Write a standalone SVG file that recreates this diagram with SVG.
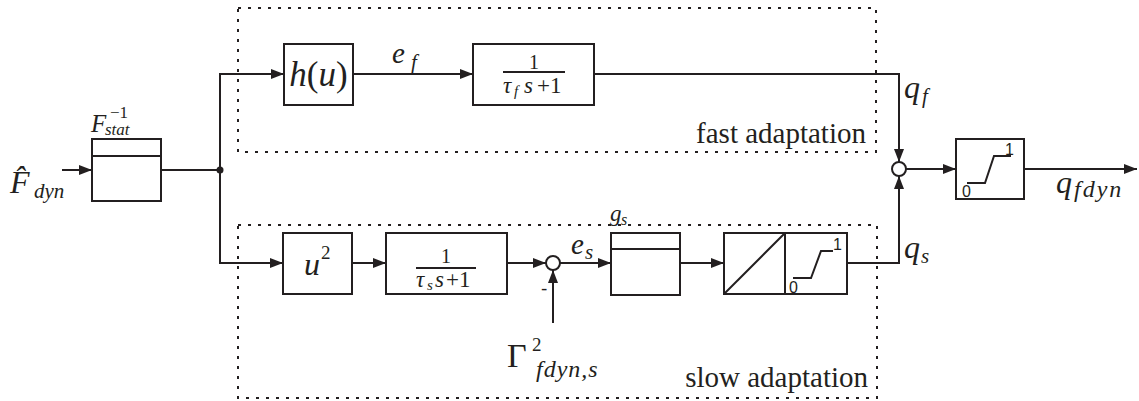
<svg xmlns="http://www.w3.org/2000/svg" width="1139" height="401" viewBox="0 0 1139 401">
<defs>
<style>
.blk{fill:#fff;stroke:#231f20;stroke-width:2}
.ln{fill:none;stroke:#231f20;stroke-width:2}
.dot{fill:none;stroke:#231f20;stroke-width:2;stroke-dasharray:3 7}
.m{font-family:"Liberation Serif","Times New Roman",serif;font-style:italic;fill:#231f20}
.r{font-family:"Liberation Serif","Times New Roman",serif;fill:#231f20}
.s{font-family:"Liberation Sans",Arial,sans-serif;fill:#231f20}
</style>
<marker id="ah" markerWidth="14" markerHeight="12" refX="13" refY="6" orient="auto" markerUnits="userSpaceOnUse">
<path d="M0,1 L13,6 L0,11 Z" fill="#231f20"/>
</marker>
</defs>
<rect width="1139" height="401" fill="#fff"/>

<g id="fast-region">
<rect x="238" y="8" width="638" height="144" class="dot"/>
<text x="866" y="143" class="r" font-size="29" text-anchor="end">fast adaptation</text>
</g>
<g id="slow-region">
<rect x="238" y="225" width="639" height="173" class="dot"/>
<text x="868" y="387" class="r" font-size="29" text-anchor="end">slow adaptation</text>
</g>

<g id="connectors">
<line x1="62" y1="170" x2="92" y2="170" class="ln" marker-end="url(#ah)"/>
<line x1="161" y1="170" x2="220" y2="170" class="ln"/>
<circle cx="220" cy="170" r="3.5" fill="#231f20"/>
<line x1="220" y1="74" x2="220" y2="263" class="ln"/>
<line x1="219" y1="74" x2="284" y2="74" class="ln" marker-end="url(#ah)"/>
<line x1="219" y1="263" x2="283" y2="263" class="ln" marker-end="url(#ah)"/>
<line x1="353" y1="74" x2="473" y2="74" class="ln" marker-end="url(#ah)"/>
<polyline points="594,74 899,74 899,162" class="ln" marker-end="url(#ah)"/>
<line x1="906" y1="169" x2="956" y2="169" class="ln" marker-end="url(#ah)"/>
<line x1="1024" y1="169" x2="1137" y2="169" class="ln" marker-end="url(#ah)"/>
<line x1="352" y1="263" x2="386" y2="263" class="ln" marker-end="url(#ah)"/>
<line x1="507" y1="263" x2="546" y2="263" class="ln" marker-end="url(#ah)"/>
<line x1="560" y1="263" x2="611" y2="263" class="ln" marker-end="url(#ah)"/>
<line x1="680" y1="263" x2="724" y2="263" class="ln" marker-end="url(#ah)"/>
<polyline points="847,263 899,263 899,176" class="ln" marker-end="url(#ah)"/>
<line x1="553" y1="323" x2="553" y2="270" class="ln" marker-end="url(#ah)"/>
</g>

<g id="input-label">
<text x="10" y="193" class="m" font-size="32">F&#x302;</text>
<text x="34" y="198" class="m" font-size="21">dyn</text>
</g>

<g id="fstat-inv">
<rect x="92" y="139" width="69" height="62" class="blk"/>
<line x1="92" y1="156" x2="161" y2="156" class="ln"/>
<text x="91" y="132" class="m" font-size="25">F</text>
<text x="110" y="118" class="r" font-size="17">−1</text>
<text x="105" y="135" class="m" font-size="17">stat</text>
</g>

<g id="h-u">
<rect x="284" y="44" width="69" height="61" class="blk"/>
<text x="318.5" y="86" class="m" font-size="35" text-anchor="middle">h<tspan font-style="normal">(</tspan>u<tspan font-style="normal">)</tspan></text>
</g>

<g id="ef-label">
<text x="392" y="63" class="m" font-size="29">e</text>
<text x="411" y="69" class="m" font-size="21">f</text>
</g>

<g id="lp-fast">
<rect x="473" y="44" width="121" height="61" class="blk"/>
<text x="534" y="69" class="r" font-size="20" text-anchor="middle">1</text>
<line x1="503" y1="72" x2="565" y2="72" class="ln"/>
<text x="503" y="93" class="m" font-size="23">τ</text>
<text x="514" y="96" class="m" font-size="15">f</text>
<text x="524" y="93" class="m" font-size="23">s</text>
<text x="537" y="93" class="r" font-size="23">+1</text>
</g>

<g id="qf-label">
<text x="904" y="98" class="m" font-size="32">q</text>
<text x="922" y="103" class="m" font-size="21">f</text>
</g>

<g id="sum-out">
<circle cx="899" cy="169" r="7" class="blk"/>
</g>

<g id="sat-out">
<rect x="956" y="139" width="68" height="60" class="blk"/>
<polyline points="967,183 985,183 994,156 1011,156" class="ln"/>
<text x="1005" y="155" class="s" font-size="16">1</text>
<text x="962" y="197" class="s" font-size="16">0</text>
</g>

<g id="output-label">
<text x="1056" y="193" class="m" font-size="32">q</text>
<text x="1074" y="197" class="m" font-size="24" letter-spacing="2">fdyn</text>
</g>

<g id="u2">
<rect x="283" y="233" width="69" height="61" class="blk"/>
<text x="304" y="275" class="m" font-size="32">u</text>
<text x="321" y="259" class="r" font-size="19">2</text>
</g>

<g id="lp-slow">
<rect x="386" y="233" width="121" height="61" class="blk"/>
<text x="446" y="263" class="r" font-size="20" text-anchor="middle">1</text>
<line x1="416" y1="268" x2="476" y2="268" class="ln"/>
<text x="416" y="287" class="m" font-size="23">τ</text>
<text x="427" y="290" class="m" font-size="15">s</text>
<text x="435" y="287" class="m" font-size="23">s</text>
<text x="446" y="287" class="r" font-size="23">+1</text>
</g>

<g id="sum-slow">
<circle cx="553" cy="263" r="7" class="blk"/>
<text x="541" y="295" class="s" font-size="19">-</text>
</g>

<g id="gamma-label">
<text x="507" y="367" class="r" font-size="34">Γ</text>
<text x="532" y="351" class="r" font-size="19">2</text>
<text x="536" y="377" class="m" font-size="24" letter-spacing="1">fdyn,s</text>
</g>

<g id="es-label">
<text x="571" y="254" class="m" font-size="29">e</text>
<text x="585" y="259" class="m" font-size="21">s</text>
</g>

<g id="gs">
<rect x="611" y="233" width="69" height="62" class="blk"/>
<line x1="611" y1="249" x2="680" y2="249" class="ln"/>
<text x="610" y="221" class="m" font-size="23">g</text>
<text x="621" y="225" class="m" font-size="16">s</text>
</g>

<g id="lin-sat">
<rect x="724" y="233" width="123" height="61" class="blk"/>
<line x1="785" y1="233" x2="785" y2="294" class="ln"/>
<line x1="724" y1="294" x2="785" y2="233" class="ln"/>
<polyline points="793,278 811,278 821,251 833,251" class="ln"/>
<text x="833" y="250" class="s" font-size="16">1</text>
<text x="789" y="293" class="s" font-size="16">0</text>
</g>

<g id="qs-label">
<text x="904" y="258" class="m" font-size="32">q</text>
<text x="921" y="263" class="m" font-size="21">s</text>
</g>
</svg>
